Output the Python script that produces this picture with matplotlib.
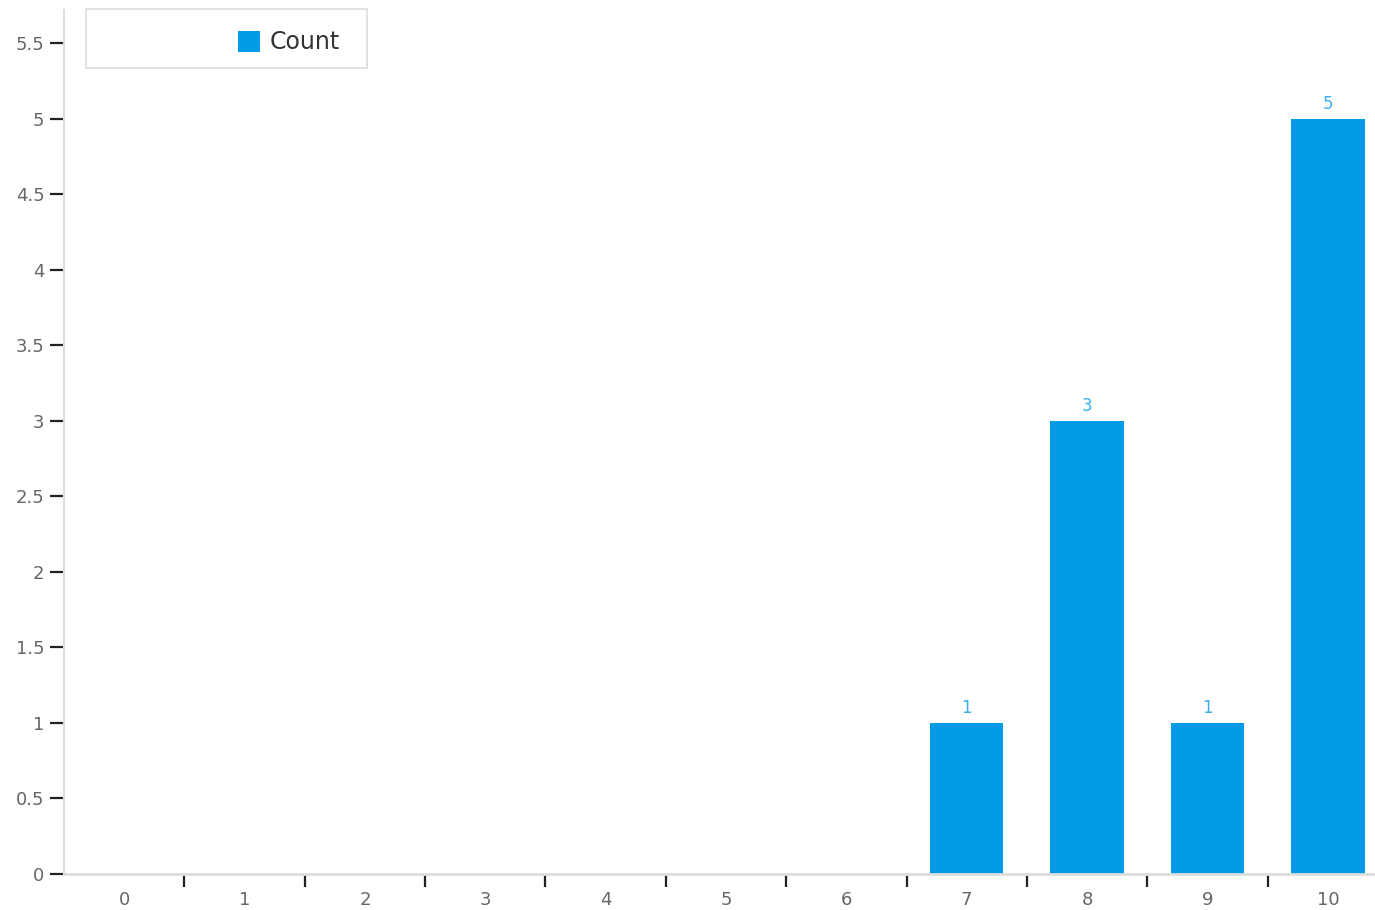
import matplotlib
matplotlib.use("Agg")
import matplotlib.pyplot as plt
from matplotlib.patches import Rectangle
from matplotlib.ticker import FuncFormatter, FixedLocator
import numpy as np

categories = ["0", "1", "2", "3", "4", "5", "6", "7", "8", "9", "10"]
counts = [0, 0, 0, 0, 0, 0, 0, 1, 3, 1, 5]
series_name = "Count"
y_ticks = [0, 0.5, 1, 1.5, 2, 2.5, 3, 3.5, 4, 4.5, 5, 5.5]

bar_color = "#039BE5"
label_color = "#3AAFEF"

plt.rcParams['font.family'] = ['DejaVu Sans']

fig = plt.figure(figsize=(13.75, 9.1), dpi=100)
ax = fig.add_axes([64/1375, 36/910, 1324/1375, (874-10)/910])

x = np.arange(len(categories))
bars = ax.bar(x, counts, width=0.61, color=bar_color, zorder=2)
for xi, v in zip(x, counts):
    if v > 0:
        ax.text(xi, v + 0.04, str(v), ha="center", va="bottom",
                color=label_color, fontsize=12)

ax.set_xlim(-0.5, len(categories) - 0.5)
ax.set_ylim(0, 5.72)

ax.set_xticks(x)
ax.set_xticklabels(categories)
ax.xaxis.set_minor_locator(FixedLocator(np.arange(0.5, len(categories) - 1, 1.0)))
ax.tick_params(axis="x", which="major", length=0, pad=12, labelsize=13, labelcolor="#666666")
ax.tick_params(axis="x", which="minor", length=9, width=1.6, color="#222222", direction="out")

ax.set_yticks(y_ticks)
ax.yaxis.set_major_formatter(FuncFormatter(lambda v, p: f"{v:g}"))
ax.tick_params(axis="y", length=10, width=1.6, color="#222222", labelsize=13,
               labelcolor="#666666", pad=4)

for s in ["top", "right"]:
    ax.spines[s].set_visible(False)
ax.spines["left"].set_color("#dddddd")
ax.spines["bottom"].set_color("#dddddd")
ax.spines["left"].set_linewidth(1.5)
ax.spines["bottom"].set_linewidth(2)

# legend box
box = Rectangle((86/1375, 1 - 68/910), (367-86)/1375, (68-9)/910,
                transform=fig.transFigure, facecolor="white",
                edgecolor="#dddddd", linewidth=1.2, zorder=5)
fig.patches.append(box)
fig.patches.append(Rectangle((238/1375, 1 - 52/910), 22/1375, 21/910,
                             transform=fig.transFigure, facecolor=bar_color,
                             edgecolor="none", zorder=6))
fig.text(270/1375, 1 - 42/910, series_name, ha="left", va="center",
         fontsize=17, color="#333333", zorder=7)

fig.savefig("out.png", dpi=100)
